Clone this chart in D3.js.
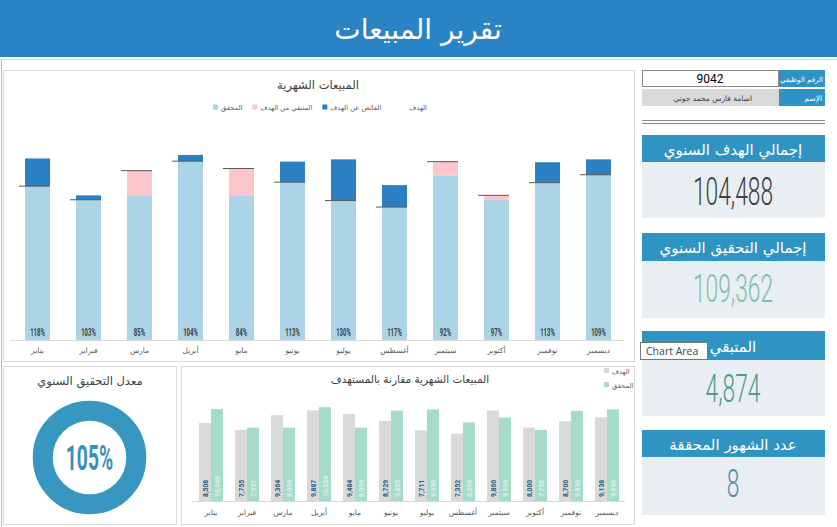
<!DOCTYPE html>
<html><head><meta charset="utf-8">
<script src="https://cdn.jsdelivr.net/npm/d3@7"></script>
<style>
html,body{margin:0;padding:0;background:#fff;}
svg{display:block;}
.ar{font-family:"DejaVu Sans",sans-serif;}
.num{font-family:Roboto,"Liberation Sans",sans-serif;}
</style></head>
<body>
<svg id="c" width="837" height="527"></svg>
<script>
// ---------- data ----------
const months = ["يناير","فبراير","مارس","أبريل","مايو","يونيو","يوليو","أغسطس","سبتمبر","أكتوبر","نوفمبر","ديسمبر"];
const targets = [8508, 7755, 9364, 9887, 9484, 8729, 7711, 7352, 9860, 8000, 8700, 9138];
const actuals = [10040, 7997, 8000, 10234, 8000, 9865, 9990, 8566, 9100, 7750, 9830, 9990];
const topLegend = ["المحقق","المتبقي من الهدف","الفائض عن الهدف","الهدف"];
const bottomLegend = ["الهدف","المحقق"];
const cardTitles = ["إجمالي الهدف السنوي","إجمالي التحقيق السنوي","المتبقي","عدد الشهور المحققة"];
const employeeId = "9042";
const employeeName = "اسامة فارس محمد جوني";
const idLabels = ["الرقم الوظيفي","الإسم"];

const svg = d3.select("#c");
const fmt = d3.format(",");
const data = months.map((m,i)=>({m, t:targets[i], a:actuals[i]}));

// ---------- page frame ----------
svg.append("rect").attr("x",0).attr("y",0).attr("width",837).attr("height",57).attr("fill","#2a83c5");
svg.append("line").attr("x1",0).attr("x2",837).attr("y1",59.5).attr("y2",59.5).attr("stroke","#d6d6d6");
svg.append("line").attr("x1",1.5).attr("x2",1.5).attr("y1",60).attr("y2",527).attr("stroke","#bdbdbd");
svg.append("text").attr("class","ar").attr("x",418).attr("y",39).attr("text-anchor","middle")
  .attr("font-size",28).attr("fill","#fff").text("تقرير المبيعات");

// ---------- top chart ----------
svg.append("rect").attr("x",3.5).attr("y",70.5).attr("width",631).attr("height",291).attr("fill","#fff").attr("stroke","#d9d9d9");
svg.append("text").attr("class","ar").attr("x",318).attr("y",89).attr("text-anchor","middle").attr("font-size",11.5).attr("fill","#404040").text("المبيعات الشهرية");

const C = {light:"#abd4e7", pink:"#fcc6ca", dark:"#2a80c2", target:"#595959"};
const legC = [C.light,C.pink,C.dark,null];
// legend laid out left-to-right: marker then text, centred around x=320
const lg = svg.append("g");
let cx = 0;
topLegend.forEach((t,i)=>{
  const it = lg.append("g").attr("transform",`translate(${cx},0)`);
  if(legC[i]) it.append("rect").attr("x",0).attr("y",-5).attr("width",5).attr("height",5).attr("fill",legC[i]);
  const tx = it.append("text").attr("class","ar").attr("x",8).attr("y",0).attr("text-anchor","start").attr("font-size",6.8).attr("fill","#595959").text(t);
  const w = tx.node().getComputedTextLength();
  cx += 8 + w + (i===2 ? 20 : 10);
});
const lgW = cx - 10;
lg.attr("transform",`translate(${320-lgW/2},109.5)`);

const x1 = d3.scaleBand().domain(months).range([12,624]).paddingInner(0.51).paddingOuter(0.255);
const y1 = d3.scaleLinear().domain([0,12000]).range([340,123]);
const g1 = svg.append("g");
data.forEach(d=>{
  const x = x1(d.m), w = x1.bandwidth();
  const low = Math.min(d.a,d.t);
  g1.append("rect").attr("x",x).attr("width",w).attr("y",y1(low)).attr("height",y1(0)-y1(low)).attr("fill",C.light);
  if(d.a<d.t) g1.append("rect").attr("x",x).attr("width",w).attr("y",y1(d.t)).attr("height",y1(d.a)-y1(d.t)).attr("fill",C.pink);
  if(d.a>d.t) g1.append("rect").attr("x",x).attr("width",w).attr("y",y1(d.a)).attr("height",y1(d.t)-y1(d.a)).attr("fill",C.dark);
  g1.append("line").attr("x1",x-6).attr("x2",x+w).attr("y1",y1(d.t)).attr("y2",y1(d.t)).attr("stroke",C.target).attr("stroke-width",1);
  g1.append("g").attr("transform",`translate(${x+w/2},335.5) scale(0.6,1)`)
    .append("text").attr("class","num").attr("text-anchor","middle").attr("font-size",10).attr("font-weight","bold").attr("fill","#404040")
    .text(Math.round(d.a/d.t*100)+"%");
  g1.append("text").attr("class","ar").attr("x",x+w/2).attr("y",353).attr("text-anchor","middle").attr("font-size",7.5).attr("fill","#595959").text(d.m);
});
g1.append("line").attr("x1",10).attr("x2",624).attr("y1",340.5).attr("y2",340.5).attr("stroke","#d9d9d9");

// ---------- donut ----------
svg.append("rect").attr("x",3.5).attr("y",366.5).attr("width",173).attr("height",158).attr("fill","#fff").attr("stroke","#d9d9d9");
svg.append("text").attr("class","ar").attr("x",90).attr("y",385).attr("text-anchor","middle").attr("font-size",11.5).attr("fill","#404040").text("معدل التحقيق السنوي");
const totT = d3.sum(targets), totA = d3.sum(actuals);
const pie = d3.pie().sort(null)([totA, Math.max(0,totT-totA)]);
const arc = d3.arc().innerRadius(36).outerRadius(57.5);
const gd = svg.append("g").attr("transform","translate(89.5,457.5)");
gd.selectAll("path").data(pie.filter(p=>p.value>0)).join("path").attr("d",arc).attr("fill","#3797c0").attr("stroke","#fff").attr("stroke-width",1.5);
gd.append("g").attr("transform","translate(0,12.5) scale(0.55,1)").append("text").attr("class","num")
  .attr("text-anchor","middle").attr("font-size",35).attr("font-weight","bold").attr("fill","#3a8fb7")
  .text(Math.round(totA/totT*100)+"%");

// ---------- bottom chart ----------
svg.append("rect").attr("x",181.5).attr("y",366.5).attr("width",453).attr("height",158).attr("fill","#fff").attr("stroke","#d9d9d9");
svg.append("text").attr("class","ar").attr("x",410).attr("y",383).attr("text-anchor","middle").attr("font-size",10.5).attr("fill","#404040").text("المبيعات الشهرية مقارنة بالمستهدف");
const C2 = {t:"#d9d9d9", a:"#a6dbc7"};
[[C2.t,0],[C2.a,1]].forEach(([col,i])=>{
  svg.append("rect").attr("x",604).attr("y",368+i*14).attr("width",5).attr("height",5).attr("fill",col);
  svg.append("text").attr("class","ar").attr("x",612).attr("y",373.5+i*14).attr("text-anchor","start").attr("font-size",6.8).attr("fill","#595959").text(bottomLegend[i]);
});
const x2 = d3.scaleBand().domain(months).range([193,625]).paddingInner(1/3).paddingOuter(1/6);
const xs = d3.scaleBand().domain(["t","a"]).range([0,x2.bandwidth()]);
const y2 = d3.scaleLinear().domain([0,12000]).range([501,391]);
const g2 = svg.append("g");
data.forEach(d=>{
  [["t",d.t,C2.t,"#2e5f82"],["a",d.a,C2.a,"#d8f1e8"]].forEach(([k,v,col,tc])=>{
    const bx = x2(d.m)+xs(k), bw = xs.bandwidth();
    g2.append("rect").attr("x",bx).attr("width",bw).attr("y",y2(v)).attr("height",y2(0)-y2(v)).attr("fill",col);
    g2.append("g").attr("transform",`translate(${bx+bw/2+2.8},497) rotate(-90) scale(0.85,1)`)
      .append("text").attr("class","num").attr("text-anchor","start").attr("font-size",8).attr("font-weight","bold").attr("fill",tc).text(fmt(v));
  });
  g2.append("text").attr("class","ar").attr("x",x2(d.m)+x2.bandwidth()/2).attr("y",515).attr("text-anchor","middle").attr("font-size",7.5).attr("fill","#595959").text(d.m);
});
g2.append("line").attr("x1",192).attr("x2",625).attr("y1",501.5).attr("y2",501.5).attr("stroke","#d9d9d9");

// ---------- right panel ----------
svg.append("rect").attr("x",642.5).attr("y",70.5).attr("width",136).attr("height",16).attr("fill","#fff").attr("stroke","#8a8a8a");
svg.append("rect").attr("x",779).attr("y",70).attr("width",46).attr("height",17).attr("fill","#2e92c4");
svg.append("text").attr("class","num").attr("x",710).attr("y",83).attr("text-anchor","middle").attr("font-size",12).attr("fill","#000").text(employeeId);
svg.append("text").attr("class","ar").attr("x",823).attr("y",81.5).attr("text-anchor","end").attr("font-size",7).attr("fill","#fff").text(idLabels[0]);
svg.append("rect").attr("x",642).attr("y",89).attr("width",137).attr("height",17).attr("fill","#d9d9d9");
svg.append("rect").attr("x",779).attr("y",89).attr("width",46).attr("height",17).attr("fill","#2e92c4");
svg.append("text").attr("class","ar").attr("x",752).attr("y",100.5).attr("text-anchor","end").attr("font-size",7.5).attr("fill","#404040").text(employeeName);
svg.append("text").attr("class","ar").attr("x",822).attr("y",100.5).attr("text-anchor","end").attr("font-size",7.5).attr("fill","#fff").text(idLabels[1]);
svg.append("line").attr("x1",642).attr("x2",825).attr("y1",120.5).attr("y2",120.5).attr("stroke","#8a8a8a");
svg.append("line").attr("x1",642).attr("x2",825).attr("y1",123.5).attr("y2",123.5).attr("stroke","#8a8a8a");

const monthsMet = data.filter(d=>d.a>=d.t).length;
const cardVals = [fmt(totT), fmt(totA), fmt(totA-totT), String(monthsMet)];
const cardCols = ["#404040","#80c0a7","#4f9c80","#4f8ea6"];
const cardY = [[135,162,218,205],[233,261,318,302],[331,360,416,402],[430,457,515,497]];
cardY.forEach(([h0,h1,b1,base],i)=>{
  svg.append("rect").attr("x",642).attr("y",h0).attr("width",183).attr("height",h1-h0).attr("fill","#3094c2");
  svg.append("rect").attr("x",642).attr("y",h1).attr("width",183).attr("height",b1-h1).attr("fill","#e8eef2");
  svg.append("text").attr("class","ar").attr("x",733).attr("y",(h0+h1)/2+6).attr("text-anchor","middle").attr("font-size",15).attr("fill","#fff").text(cardTitles[i]);
  svg.append("g").attr("transform",`translate(733,${base}) scale(0.6,1)`).append("text").attr("class","num")
    .attr("text-anchor","middle").attr("font-size",38).attr("font-weight",300).attr("fill",cardCols[i]).text(cardVals[i]);
});

// tooltip overlay present in reference
svg.append("rect").attr("x",640.5).attr("y",342.5).attr("width",67).attr("height",17).attr("fill","#fff").attr("stroke","#767676");
svg.append("text").attr("x",646).attr("y",355).attr("font-family","'Open Sans',sans-serif").attr("font-size",10.5).attr("fill","#444").text("Chart Area");
</script>
</body></html>
